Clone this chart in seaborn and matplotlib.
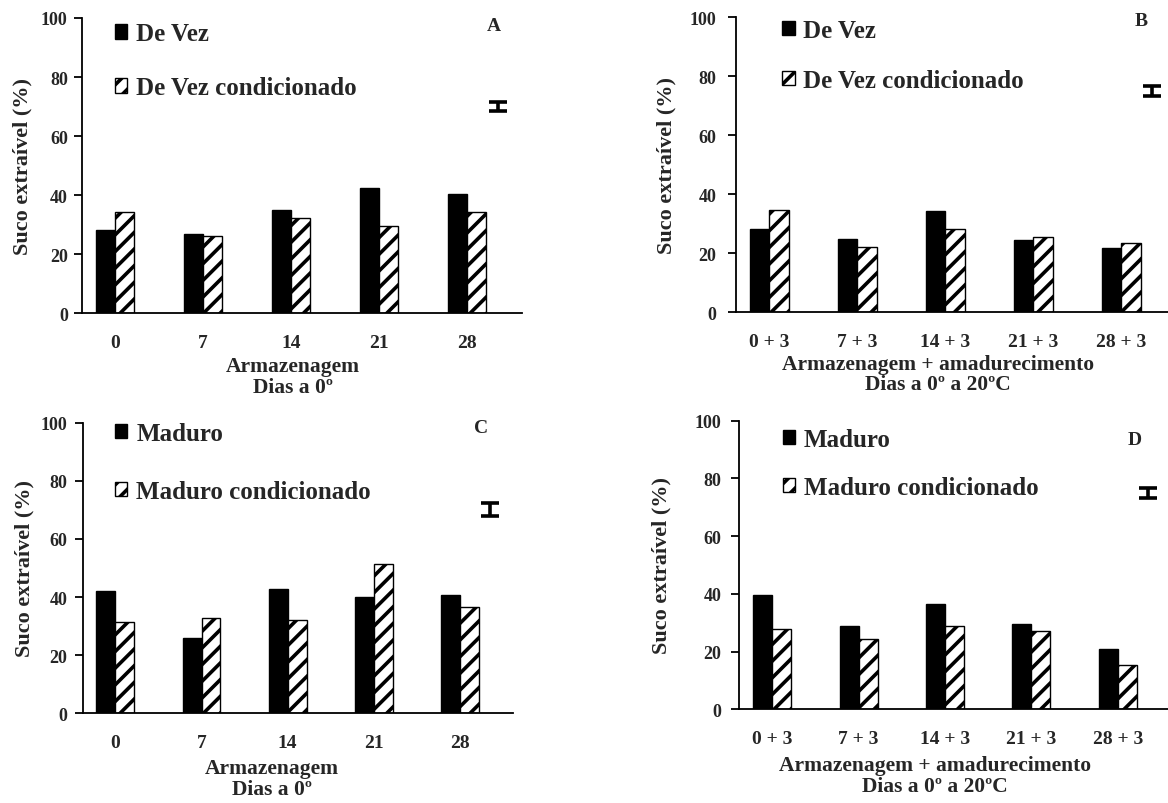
import numpy as np
import pandas as pd
import matplotlib
matplotlib.use("Agg")
import matplotlib.pyplot as plt
import seaborn as sns
from matplotlib.patches import Patch

# ---------------- data ----------------
dias_arm = ["0", "7", "14", "21", "28"]
dias_amad = ["0 + 3", "7 + 3", "14 + 3", "21 + 3", "28 + 3"]

de_vez_a = [28.3, 26.9, 35.0, 42.3, 40.3]
de_vez_cond_a = [34.2, 26.2, 32.3, 29.5, 34.2]

de_vez_b = [28.4, 25.0, 34.4, 24.4, 21.7]
de_vez_cond_b = [34.8, 22.3, 28.4, 25.5, 23.5]

maduro_c = [42.1, 26.0, 42.7, 40.0, 40.7]
maduro_cond_c = [31.3, 32.7, 32.1, 51.5, 36.6]

maduro_d = [39.7, 29.0, 36.4, 29.7, 20.9]
maduro_cond_d = [27.7, 24.2, 29.0, 27.0, 15.5]

# least significant difference bars (centre, half-length)
dms_centro = [70.0, 75.0, 70.0, 75.0]
dms_meia = [1.5, 1.8, 2.2, 1.8]

serie_devez = ["De Vez", "De Vez condicionado"]
serie_maduro = ["Maduro", "Maduro condicionado"]
letras = ["A", "B", "C", "D"]
xlabel_arm = "Armazenagem\nDias a 0º"
xlabel_amad = "Armazenagem + amadurecimento\nDias a 0º a 20ºC"
ylabel = "Suco extraível (%)"

# ---------------- style ----------------
sns.set_theme(style="white")
plt.rcParams["font.family"] = ["Liberation Serif", "DejaVu Serif"]
plt.rcParams["font.weight"] = "bold"
plt.rcParams["axes.labelweight"] = "bold"
plt.rcParams["hatch.linewidth"] = 2.6
plt.rcParams["hatch.color"] = "black"

fig = plt.figure(figsize=(11.68, 8.04), dpi=100)

rects = [
    [0.0699, 0.6091, 0.3767, 0.3673],
    [0.6301, 0.6103, 0.3767, 0.3669],
    [0.0708, 0.1116, 0.3687, 0.3614],
    [0.6330, 0.1166, 0.3699, 0.3590],
]
panels = [
    (dias_arm, de_vez_a, de_vez_cond_a, serie_devez, xlabel_arm),
    (dias_amad, de_vez_b, de_vez_cond_b, serie_devez, xlabel_amad),
    (dias_arm, maduro_c, maduro_cond_c, serie_maduro, xlabel_arm),
    (dias_amad, maduro_d, maduro_cond_d, serie_maduro, xlabel_amad),
]
ylabel_x = [-0.112, -0.136, -0.113, -0.157]
xlabel_pos = [(0.48, -0.145), (0.459, -0.14), (0.44, -0.155), (0.453, -0.16)]
ytick_pad = [4, 8, 5, 7]
legend_pos = [(0.075, 0.985), (0.105, 0.995), (0.075, 1.004), (0.10, 0.975)]
legend_spacing = [1.24, 1.08, 1.4, 1.0]
letra_pos = [(4.31, 97.5), (4.22, 98.8), (4.25, 98.5), (4.2, 93.5)]
x0 = -0.38

for i, (cats, v1, v2, nomes, xlab) in enumerate(panels):
    ax = fig.add_axes(rects[i])
    df = pd.DataFrame({
        "dia": cats + cats,
        "serie": [nomes[0]] * len(cats) + [nomes[1]] * len(cats),
        "valor": v1 + v2,
    })
    sns.barplot(data=df, x="dia", y="valor", hue="serie", hue_order=nomes,
                order=cats, palette=["black", "white"], saturation=1,
                edgecolor="black", linewidth=1.0, width=0.44, dodge=True,
                errorbar=None, legend=False, ax=ax)
    for bar in ax.containers[1]:
        bar.set_hatch("//")

    ax.errorbar([4.35], [dms_centro[i]], yerr=[dms_meia[i]], fmt="none",
                ecolor="black", elinewidth=2.6, capsize=6.5, capthick=2.6)
    ax.text(letra_pos[i][0], letra_pos[i][1], letras[i], fontsize=14,
            fontweight="bold", ha="center", va="center")

    ax.set_xlim(x0, 4.62)
    ax.set_ylim(0, 100)
    ax.set_yticks([0, 20, 40, 60, 80, 100])
    ax.set_xticks(range(len(cats)))
    ax.set_xticklabels(cats)
    ax.set_xticks(np.arange(len(cats) + 1) + x0, minor=True)
    ax.tick_params(axis="x", which="major", length=0, pad=15, labelsize=14)
    ax.tick_params(axis="x", which="minor", length=6, width=1.3,
                   direction="out", color="black")
    ax.tick_params(axis="y", length=6, width=1.3, direction="out",
                   color="black", labelsize=13, pad=ytick_pad[i], left=True)
    for lab in ax.get_xticklabels() + ax.get_yticklabels():
        lab.set_fontweight("bold")

    for s in ["top", "right"]:
        ax.spines[s].set_visible(False)
    for s in ["left", "bottom"]:
        ax.spines[s].set_color("black")
        ax.spines[s].set_linewidth(1.3)

    ax.set_ylabel(ylabel, fontsize=16, fontweight="bold")
    ax.yaxis.set_label_coords(ylabel_x[i], 0.5)
    ax.set_xlabel(xlab, fontsize=15.5, fontweight="bold", linespacing=1.05)
    ax.xaxis.set_label_coords(*xlabel_pos[i])

    handles = [Patch(facecolor="black", edgecolor="black", label=nomes[0]),
               Patch(facecolor="white", edgecolor="black", hatch="//",
                     label=nomes[1])]
    ax.legend(handles=handles, loc="upper left",
              bbox_to_anchor=legend_pos[i], frameon=False,
              prop={"family": "Liberation Serif", "weight": "bold", "size": 18},
              handlelength=0.5, handleheight=0.5, handletextpad=0.35,
              labelspacing=legend_spacing[i], borderpad=0, borderaxespad=0)

fig.savefig("out.png", dpi=100)
